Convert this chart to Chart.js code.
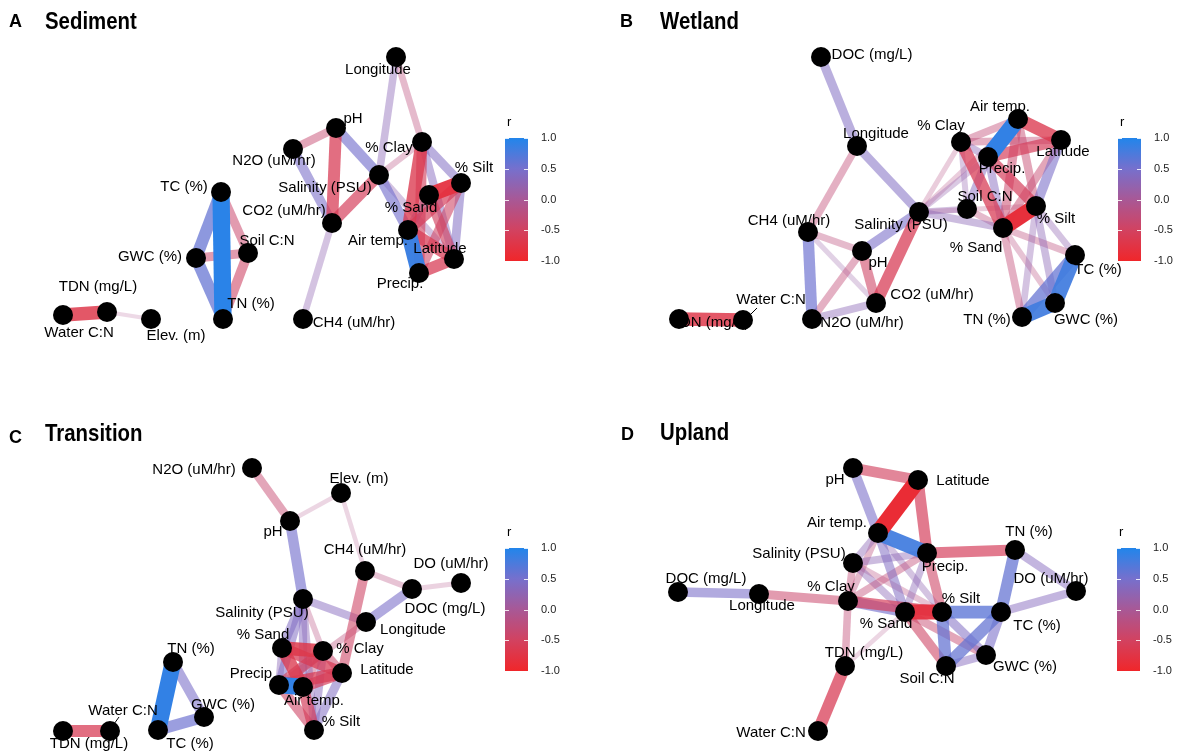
<!DOCTYPE html>
<html>
<head>
<meta charset="utf-8">
<script src="https://cdn.jsdelivr.net/npm/chart.js@4.4.1/dist/chart.umd.min.js"></script>
<style>
  html, body { margin: 0; padding: 0; background: #fff; width: 1180px; height: 753px; overflow: hidden; }
  canvas { position: absolute; }
</style>
</head>
<body>
<canvas id="panelA" width="590" height="377" style="left:0;top:0"></canvas>
<canvas id="panelB" width="590" height="377" style="left:590px;top:0"></canvas>
<canvas id="panelC" width="590" height="377" style="left:0;top:376px"></canvas>
<canvas id="panelD" width="590" height="377" style="left:590px;top:376px"></canvas>
<script>
// ---- Sediment correlation network (layout coordinates + edges [from, to, r]) ----
const sedNodes = ["Longitude","pH","N2O (uM/hr)","% Clay","Salinity (PSU)","% Silt","% Sand","CO2 (uM/hr)","Air temp.","Latitude","Precip.","CH4 (uM/hr)","TC (%)","GWC (%)","Soil C:N","TN (%)","TDN (mg/L)","Water C:N","Elev. (m)"];
const sedX = [396,336,293,422,379,461,429,332,408,454,419,303,221,196,248,223,107,63,151];
const sedY = [57,128,149,142,175,183,195,223,230,259,273,319,192,258,253,319,312,315,319];
const sedEdges = [
  ["TC (%)","TN (%)",0.95], ["TC (%)","GWC (%)",0.6], ["GWC (%)","TN (%)",0.6],
  ["TC (%)","Soil C:N",-0.4], ["GWC (%)","Soil C:N",-0.4], ["Soil C:N","TN (%)",-0.45],
  ["Water C:N","TDN (mg/L)",-0.7], ["TDN (mg/L)","Elev. (m)",-0.08],
  ["Longitude","Salinity (PSU)",0.3], ["Longitude","% Clay",-0.25],
  ["pH","N2O (uM/hr)",-0.35], ["pH","CO2 (uM/hr)",-0.6], ["pH","Salinity (PSU)",0.5],
  ["Salinity (PSU)","Air temp.",0.5], ["Salinity (PSU)","% Clay",-0.2], ["Salinity (PSU)","CO2 (uM/hr)",-0.55],
  ["Salinity (PSU)","Latitude",0.25], ["N2O (uM/hr)","CO2 (uM/hr)",0.45], ["CO2 (uM/hr)","CH4 (uM/hr)",0.25],
  ["% Clay","Air temp.",-0.65], ["% Clay","% Silt",0.4], ["% Clay","Latitude",0.35], ["% Clay","Precip.",-0.5],
  ["% Silt","% Sand",-0.8], ["% Silt","Air temp.",-0.55], ["% Silt","Latitude",0.4], ["% Silt","Precip.",-0.45],
  ["% Sand","Latitude",-0.5], ["% Sand","Air temp.",0.35],
  ["Air temp.","Precip.",0.85], ["Air temp.","Latitude",-0.6], ["Precip.","Latitude",-0.6]
];

// ---- Wetland ----
const wetNodes = ["DOC (mg/L)","Longitude","CH4 (uM/hr)","pH","CO2 (uM/hr)","N2O (uM/hr)","Water C:N","TDN (mg/L)","Salinity (PSU)","Air temp.","% Clay","Latitude","Precip.","Soil C:N","% Silt","% Sand","TC (%)","TN (%)","GWC (%)"];
const wetX = [231,267,218,272,286,222,153,89,329,428,371,471,398,377,446,413,485,432,465];
const wetY = [57,146,232,251,303,319,320,319,212,119,142,140,157,209,206,228,255,317,303];
const wetEdges = [
  ["DOC (mg/L)","Longitude",0.4], ["Longitude","Salinity (PSU)",0.4], ["Longitude","CH4 (uM/hr)",-0.3],
  ["CH4 (uM/hr)","N2O (uM/hr)",0.55], ["CH4 (uM/hr)","pH",-0.25], ["CH4 (uM/hr)","CO2 (uM/hr)",0.15],
  ["pH","Salinity (PSU)",0.45], ["pH","CO2 (uM/hr)",-0.45], ["pH","N2O (uM/hr)",-0.3],
  ["N2O (uM/hr)","CO2 (uM/hr)",0.3], ["CO2 (uM/hr)","Salinity (PSU)",-0.6], ["TDN (mg/L)","Water C:N",-0.7],
  ["Salinity (PSU)","% Clay",-0.15], ["Salinity (PSU)","Precip.",0.2], ["Salinity (PSU)","Soil C:N",0.25],
  ["Salinity (PSU)","% Sand",0.3], ["Salinity (PSU)","% Silt",-0.15], ["Salinity (PSU)","Air temp.",-0.15],
  ["Air temp.","Precip.",0.9], ["Air temp.","Latitude",-0.65], ["Air temp.","% Clay",-0.3],
  ["Air temp.","% Sand",-0.4], ["Air temp.","% Silt",-0.35],
  ["% Clay","Precip.",0.3], ["% Clay","% Sand",-0.6], ["% Clay","Latitude",-0.3], ["% Clay","Soil C:N",0.2],
  ["Latitude","Precip.",-0.55], ["Latitude","% Silt",0.45], ["Latitude","% Sand",-0.35],
  ["Precip.","% Silt",-0.55], ["Precip.","Soil C:N",0.35], ["Precip.","% Sand",0.35],
  ["% Silt","% Sand",-0.85], ["Soil C:N","% Sand",-0.25],
  ["TC (%)","GWC (%)",0.8], ["GWC (%)","TN (%)",0.8], ["TC (%)","TN (%)",0.6],
  ["% Sand","TN (%)",-0.3], ["% Silt","TN (%)",0.25], ["% Silt","TC (%)",0.25],
  ["% Sand","TC (%)",-0.25], ["% Silt","GWC (%)",0.3], ["% Sand","GWC (%)",-0.2]
];

// ---- Transition ----
const traNodes = ["N2O (uM/hr)","pH","Elev. (m)","CH4 (uM/hr)","DO (uM/hr)","DOC (mg/L)","Salinity (PSU)","Longitude","% Sand","% Clay","Latitude","Precip.","Air temp.","% Silt","TN (%)","GWC (%)","TC (%)","Water C:N","TDN (mg/L)"];
const traX = [252,290,341,365,461,412,303,366,282,323,342,279,303,314,173,204,158,110,63];
const traY = [92,145,117,195,207,213,223,246,272,275,297,309,311,354,286,341,354,355,355];
const traEdges = [
  ["N2O (uM/hr)","pH",-0.35], ["pH","Elev. (m)",-0.1], ["Elev. (m)","CH4 (uM/hr)",-0.1],
  ["pH","Salinity (PSU)",0.5], ["CH4 (uM/hr)","DOC (mg/L)",-0.2], ["DOC (mg/L)","DO (uM/hr)",-0.12],
  ["DOC (mg/L)","Longitude",0.45], ["Salinity (PSU)","Longitude",0.35], ["CH4 (uM/hr)","Latitude",-0.45],
  ["Longitude","Precip.",-0.25],
  ["Salinity (PSU)","% Sand",0.4], ["Salinity (PSU)","Precip.",0.4], ["Salinity (PSU)","Air temp.",0.35],
  ["Salinity (PSU)","% Clay",-0.2], ["Salinity (PSU)","% Silt",0.3],
  ["% Sand","% Clay",-0.7], ["% Sand","Latitude",-0.6], ["% Sand","Air temp.",-0.65], ["% Sand","Precip.",0.3],
  ["% Clay","Latitude",-0.4], ["% Clay","Precip.",-0.5], ["% Clay","Air temp.",-0.3],
  ["Precip.","Air temp.",0.9], ["Precip.","Latitude",-0.6], ["Air temp.","Latitude",-0.55],
  ["Latitude","% Silt",0.4], ["Precip.","% Silt",-0.45], ["Air temp.","% Silt",-0.55], ["% Clay","% Silt",0.35],
  ["TN (%)","TC (%)",0.9], ["TN (%)","GWC (%)",0.45], ["TC (%)","GWC (%)",0.55],
  ["TDN (mg/L)","Water C:N",-0.6]
];

// ---- Upland ----
const uplNodes = ["pH","Latitude","Air temp.","Salinity (PSU)","Precip.","TN (%)","DO (uM/hr)","DOC (mg/L)","Longitude","% Clay","% Sand","% Silt","TC (%)","GWC (%)","Soil C:N","TDN (mg/L)","Water C:N"];
const uplX = [263,328,288,263,337,425,486,88,169,258,315,352,411,396,356,255,228];
const uplY = [92,104,157,187,177,174,215,216,218,225,236,236,236,279,290,290,355];
const uplEdges = [
  ["pH","Latitude",-0.5], ["pH","Air temp.",0.45], ["Latitude","Air temp.",-0.9], ["Latitude","Precip.",-0.55],
  ["Air temp.","Precip.",0.8], ["Air temp.","% Sand",0.4], ["Air temp.","Salinity (PSU)",0.3],
  ["Air temp.","% Clay",-0.25], ["Air temp.","% Silt",0.25],
  ["Precip.","TN (%)",-0.55], ["TN (%)","DO (uM/hr)",0.35], ["TN (%)","TC (%)",0.6], ["DO (uM/hr)","TC (%)",0.35],
  ["% Silt","TC (%)",0.65], ["% Sand","% Silt",-0.8], ["% Silt","Soil C:N",0.6], ["TC (%)","Soil C:N",0.6],
  ["% Silt","GWC (%)",0.4], ["TC (%)","GWC (%)",0.45], ["Soil C:N","GWC (%)",0.35],
  ["% Sand","Soil C:N",-0.45], ["% Sand","GWC (%)",-0.35],
  ["Precip.","% Silt",-0.45], ["Precip.","% Sand",0.3], ["Precip.","% Clay",-0.3], ["Precip.","Salinity (PSU)",0.3],
  ["Salinity (PSU)","% Clay",-0.3], ["Salinity (PSU)","% Sand",0.3], ["Salinity (PSU)","% Silt",-0.2],
  ["% Clay","% Sand",0.5], ["% Clay","% Silt",-0.55],
  ["DOC (mg/L)","Longitude",0.45], ["Longitude","% Clay",-0.4], ["% Clay","TDN (mg/L)",-0.3],
  ["TDN (mg/L)","Water C:N",-0.6], ["TDN (mg/L)","% Sand",-0.1]
];

// colour bar ticks
const barTicks = [1.0, 0.5, 0.0, -0.5, -1.0];
const barTickLabels = ["1.0", "0.5", "0.0", "-0.5", "-1.0"];

// ---- label placement (pixel offsets from each node) ----
const sedLabelDX = [-18,17,-19,-33,-54,13,-18,-48,-30,-14,-19,51,-37,-46,19,28,-9,16,25];
const sedLabelDY = [13,-9,12,6,13,-15,13,-12,11,-10,11,4,-5,-1,-12,-15,-25,18,17];
const wetLabelDX = [51,19,-19,16,56,50,28,31,-18,-18,-20,2,14,18,20,-27,23,-35,31];
const wetLabelDY = [-2,-12,-11,12,-8,4,-20,4,13,-12,-16,12,12,-12,13,20,15,3,17];
const traLabelDX = [-58,-17,18,0,-10,33,-41,47,-19,37,45,-26,11,27,18,19,32,13,26];
const traLabelDY = [2,11,-14,-21,-19,20,14,8,-13,-2,-3,-11,14,-8,-13,-12,14,-20,13];
const uplLabelDX = [-18,45,-41,-54,18,14,-25,28,3,-17,-19,19,36,39,-19,19,-47];
const uplLabelDY = [12,1,-10,-9,14,-18,-12,-13,12,-14,12,-13,14,12,13,-13,2];

const FONT = '"Liberation Sans", Arial, Helvetica, sans-serif';

// diverging scale: red (-1) -> mauve (0) -> blue (+1)
const STOPS = [
  [-1.0, [240, 38, 42]],
  [-0.5, [210, 66, 96]],
  [ 0.0, [168, 88, 150]],
  [ 0.5, [118, 112, 205]],
  [ 1.0, [33, 133, 235]]
];
function rColour(r) {
  for (let k = 0; k < STOPS.length - 1; k++) {
    const [r0, c0] = STOPS[k], [r1, c1] = STOPS[k + 1];
    if (r <= r1 || k === STOPS.length - 2) {
      const t = Math.max(0, Math.min(1, (r - r0) / (r1 - r0)));
      return c0.map((v, i) => Math.round(v + (c1[i] - v) * t));
    }
  }
}
function edgeColour(r) {
  const c = rColour(r);
  const a = Math.min(1, 0.14 + Math.abs(r));
  return `rgba(${c[0]},${c[1]},${c[2]},${a.toFixed(3)})`;
}

function makePanel(canvasId, p) {
  const index = {};
  p.nodes.forEach((n, i) => { index[n] = i; });
  const pt = i => ({ x: p.xs[i], y: p.ys[i] });

  const datasets = [{
    type: 'scatter',
    data: p.nodes.map((n, i) => pt(i)),
    pointRadius: 10,
    pointBackgroundColor: '#000',
    pointBorderWidth: 0,
    pointHoverRadius: 10,
    order: 0,
    clip: false
  }];
  p.edges.forEach(([a, b, r]) => {
    datasets.push({
      type: 'line',
      data: [pt(index[a]), pt(index[b])],
      borderColor: edgeColour(r),
      borderWidth: 3 + 15 * Math.abs(r),
      borderCapStyle: 'butt',
      pointRadius: 0,
      pointHoverRadius: 0,
      fill: false,
      order: 1 + Math.round((1 - Math.abs(r)) * 100),
      clip: false
    });
  });

  const decor = {
    id: 'decor',
    afterDatasetsDraw(chart) {
      const ctx = chart.ctx;
      const sx = chart.scales.x, sy = chart.scales.y;
      ctx.save();
      // leader lines
      (p.leaders || []).forEach(([name, x0, y0, x1, y1]) => {
        const i = index[name];
        const px = sx.getPixelForValue(p.xs[i]), py = sy.getPixelForValue(p.ys[i]);
        ctx.strokeStyle = '#000';
        ctx.lineWidth = 1;
        ctx.beginPath();
        ctx.moveTo(px + x0, py + y0);
        ctx.lineTo(px + x1, py + y1);
        ctx.stroke();
      });
      ctx.font = '15px ' + FONT;
      ctx.fillStyle = '#000';
      ctx.textAlign = 'center';
      ctx.textBaseline = 'middle';
      p.nodes.forEach((n, i) => {
        const px = sx.getPixelForValue(p.xs[i]) + p.ldx[i];
        const py = sy.getPixelForValue(p.ys[i]) + p.ldy[i];
        ctx.fillText(n, px, py);
      });
      ctx.restore();
    },
    afterDraw(chart) {
      const ctx = chart.ctx;
      ctx.save();
      // panel heading
      ctx.fillStyle = '#000';
      ctx.textAlign = 'left';
      ctx.textBaseline = 'alphabetic';
      ctx.font = 'bold 18px ' + FONT;
      ctx.fillText(p.letter, p.letterX, p.letterY);
      ctx.save();
      ctx.translate(p.titleX, p.titleY);
      ctx.scale(0.85, 1);
      ctx.font = 'bold 24px ' + FONT;
      ctx.fillText(p.title, 0, 0);
      ctx.restore();

      // colour bar for r
      const { left, top, w, h } = p.bar;
      const g = ctx.createLinearGradient(0, top, 0, top + h);
      for (let k = 0; k <= 20; k++) {
        const c = rColour(1 - 2 * k / 20);
        g.addColorStop(k / 20, `rgb(${c[0]},${c[1]},${c[2]})`);
      }
      ctx.fillStyle = g;
      ctx.fillRect(left, top, w, h);
      ctx.strokeStyle = 'rgba(255,255,255,0.85)';
      ctx.lineWidth = 1;
      ctx.font = '11px ' + FONT;
      ctx.textBaseline = 'middle';
      barTicks.forEach((v, k) => {
        const y = Math.round(top + (1 - v) / 2 * h) + 0.5;
        ctx.beginPath();
        ctx.moveTo(left, y); ctx.lineTo(left + 4, y);
        ctx.moveTo(left + w - 4, y); ctx.lineTo(left + w, y);
        ctx.stroke();
        ctx.fillStyle = '#222';
        ctx.fillText(barTickLabels[k], left + w + 13, top + (1 - v) / 2 * h);
      });
      ctx.fillStyle = '#000';
      ctx.font = '13px ' + FONT;
      ctx.textBaseline = 'alphabetic';
      ctx.fillText('r', left + 2, top - 12);
      ctx.restore();
    }
  };

  return new Chart(document.getElementById(canvasId), {
    type: 'scatter',
    data: { datasets },
    options: {
      responsive: false,
      animation: false,
      devicePixelRatio: 1,
      events: [],
      layout: { padding: 0, autoPadding: false },
      plugins: { legend: { display: false }, tooltip: { enabled: false } },
      scales: {
        x: { type: 'linear', min: 0, max: 590, display: false },
        y: { type: 'linear', min: 0, max: 377, reverse: true, display: false }
      }
    },
    plugins: [decor]
  });
}

makePanel('panelA', {
  nodes: sedNodes, xs: sedX, ys: sedY, edges: sedEdges, ldx: sedLabelDX, ldy: sedLabelDY,
  letter: 'A', letterX: 9, letterY: 27, title: 'Sediment', titleX: 45, titleY: 29,
  bar: { left: 505, top: 138, w: 23, h: 123 }
});
makePanel('panelB', {
  nodes: wetNodes, xs: wetX, ys: wetY, edges: wetEdges, ldx: wetLabelDX, ldy: wetLabelDY,
  letter: 'B', letterX: 30, letterY: 27, title: 'Wetland', titleX: 70, titleY: 29,
  bar: { left: 528, top: 138, w: 23, h: 123 },
  leaders: [["Water C:N", 14, -12, 6, -4]]
});
makePanel('panelC', {
  nodes: traNodes, xs: traX, ys: traY, edges: traEdges, ldx: traLabelDX, ldy: traLabelDY,
  letter: 'C', letterX: 9, letterY: 67, title: 'Transition', titleX: 45, titleY: 65,
  bar: { left: 505, top: 172, w: 23, h: 123 },
  leaders: [["Water C:N", 9, -14, 4, -7]]
});
makePanel('panelD', {
  nodes: uplNodes, xs: uplX, ys: uplY, edges: uplEdges, ldx: uplLabelDX, ldy: uplLabelDY,
  letter: 'D', letterX: 31, letterY: 64, title: 'Upland', titleX: 70, titleY: 64,
  bar: { left: 527, top: 172, w: 23, h: 123 }
});
</script>
</body>
</html>
